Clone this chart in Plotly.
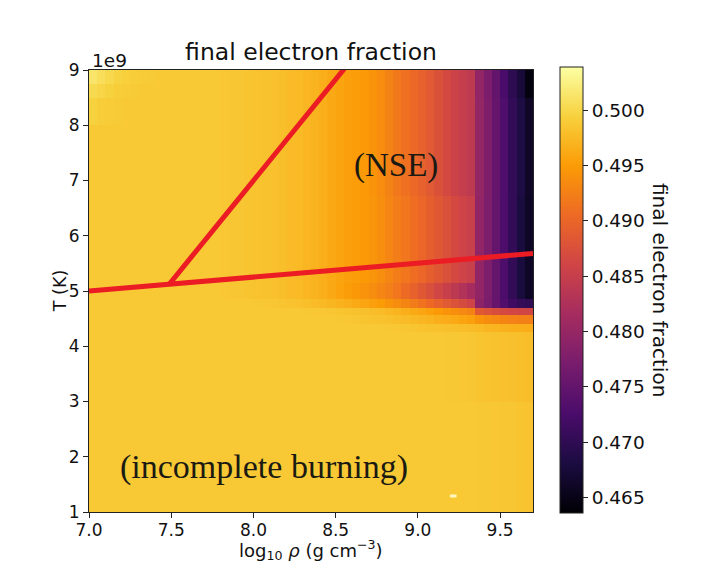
import plotly.graph_objects as go

# ---------------- data ----------------
# density grid: 54 columns of log10 rho, centres 7.025 ... 9.675 (step 0.05)
RHO_FIRST_CENTRE = 7.025
RHO_STEP = 0.05

# temperature row edges (units of 1e9 K), bottom -> top
T_EDGES = [1.0, 3.0, 4.26, 4.41, 4.56, 4.70, 4.85, 5.15, 6.72, 8.0, 8.5, 8.75, 9.0]

# column profiles of final Ye, split in segments:
# A: 7.025-7.775 (16), B: 7.825-8.475 (14), C: 8.525-9.325 (17), D: 9.375-9.675 (7)
yellow_A = [0.4988] * 16
yellow_B = [0.4988] * 14
nse_B = [0.4986, 0.4985, 0.4985, 0.4984, 0.4983, 0.4982, 0.4981,
         0.4979, 0.4977, 0.4975, 0.4972, 0.4969, 0.4965, 0.4961]
nse_C = [0.4957, 0.4954, 0.4951, 0.4948, 0.4943, 0.4936, 0.4928, 0.4919, 0.4911,
         0.4903, 0.4895, 0.4886, 0.4876, 0.4866, 0.4856, 0.4848, 0.4842]
nse_D = [0.4797, 0.4776, 0.4752, 0.4730, 0.4704, 0.4684, 0.4662]

top0_A = [0.5014, 0.5007, 0.5001, 0.4996, 0.4993, 0.4991, 0.4990, 0.4989,
          0.4988, 0.4988, 0.4988, 0.4988, 0.4988, 0.4988, 0.4988, 0.4988]
top0_D = [0.4795, 0.4773, 0.4750, 0.4726, 0.4698, 0.4675, 0.4645]
top1_A = [0.5003, 0.4999, 0.4995, 0.4992, 0.4990, 0.4989, 0.4988, 0.4988,
          0.4988, 0.4988, 0.4988, 0.4988, 0.4988, 0.4988, 0.4988, 0.4988]
top2_A = [0.4995, 0.4992, 0.4990, 0.4989, 0.4988, 0.4988, 0.4988, 0.4988,
          0.4988, 0.4988, 0.4988, 0.4988, 0.4988, 0.4988, 0.4988, 0.4988]

nse_mid_C = [0.4957, 0.4954, 0.4951, 0.4948, 0.4944, 0.4938, 0.4931, 0.4923, 0.4916,
             0.4908, 0.4901, 0.4893, 0.4884, 0.4875, 0.4866, 0.4858, 0.4852]
nse_mid_D = [0.4795, 0.4775, 0.4752, 0.4728, 0.4703, 0.4680, 0.4660]

band_C = [0.4955, 0.4951, 0.4947, 0.4942, 0.4937, 0.4931, 0.4924, 0.4916, 0.4906,
          0.4895, 0.4884, 0.4873, 0.4862, 0.4851, 0.4840, 0.4828, 0.4816]

t4_B = [0.4988, 0.4988, 0.4988, 0.4988, 0.4987, 0.4986, 0.4985,
        0.4984, 0.4983, 0.4981, 0.4979, 0.4977, 0.4974, 0.4971]
t4_C = [0.4968, 0.4965, 0.4962, 0.4958, 0.4954, 0.4949, 0.4943, 0.4937, 0.4930,
        0.4922, 0.4913, 0.4904, 0.4895, 0.4886, 0.4877, 0.4868, 0.4860]
t4_D = [0.4790, 0.4772, 0.4752, 0.4732, 0.4715, 0.4705, 0.4700]

t3_B = [0.4988, 0.4988, 0.4988, 0.4988, 0.4988, 0.4988, 0.4988,
        0.4988, 0.4988, 0.4988, 0.4987, 0.4986, 0.4986, 0.4985]
t3_C = [0.4984, 0.4983, 0.4982, 0.4980, 0.4978, 0.4976, 0.4973, 0.4970, 0.4966,
        0.4962, 0.4958, 0.4953, 0.4948, 0.4943, 0.4938, 0.4933, 0.4928]
t3_D = [0.4885, 0.4878, 0.4872, 0.4867, 0.4864, 0.4862, 0.4862]

t2_C = [0.4987, 0.4986, 0.4985, 0.4984, 0.4983, 0.4982, 0.4980, 0.4978, 0.4976,
        0.4974, 0.4972, 0.4969, 0.4966, 0.4963, 0.4960, 0.4957, 0.4954]
t2_D = [0.4942, 0.4937, 0.4933, 0.4930, 0.4927, 0.4925, 0.4924]

t1_C = [0.4988, 0.4988, 0.4988, 0.4988, 0.4988, 0.4988, 0.4987, 0.4986, 0.4985,
        0.4984, 0.4983, 0.4982, 0.4981, 0.4980, 0.4979, 0.4978, 0.4977]
t1_D = [0.4975, 0.4972, 0.4970, 0.4968, 0.4966, 0.4965, 0.4964]

low_a_C = [0.4988, 0.4988, 0.4988, 0.4988, 0.4988, 0.4988, 0.4988, 0.4988, 0.4988,
           0.4988, 0.4988, 0.4988, 0.4988, 0.4987, 0.4987, 0.4986, 0.4985]
low_a_D = [0.4984, 0.4983, 0.4982, 0.4981, 0.4980, 0.4979, 0.4978]

low_b_C = [0.4988] * 17
low_b_D = [0.4987, 0.4987, 0.4986, 0.4985, 0.4985, 0.4984, 0.4983]

# rows, bottom -> top (match T_EDGES)
YE_ROWS = [
    yellow_A + yellow_B + low_b_C + low_b_D,     # 1.0 - 3.0
    yellow_A + yellow_B + low_a_C + low_a_D,     # 3.0 - 4.26
    yellow_A + yellow_B + t1_C + t1_D,           # 4.26 - 4.41
    yellow_A + yellow_B + t2_C + t2_D,           # 4.41 - 4.56
    yellow_A + t3_B + t3_C + t3_D,               # 4.56 - 4.70
    yellow_A + t4_B + t4_C + t4_D,               # 4.70 - 4.85
    yellow_A + nse_B + band_C + nse_mid_D,       # 4.85 - 5.15
    yellow_A + nse_B + nse_mid_C + nse_mid_D,    # 5.15 - 6.72
    yellow_A + nse_B + nse_C + nse_D,            # 6.72 - 8.0
    top2_A + nse_B + nse_C + nse_D,              # 8.0 - 8.5
    top1_A + nse_B + nse_C + top0_D,             # 8.5 - 8.75
    top0_A + nse_B + nse_C + top0_D,             # 8.75 - 9.0
]

ZMIN, ZMAX = 0.4636, 0.5039
CB_TICKS = [0.465, 0.470, 0.475, 0.480, 0.485, 0.490, 0.495, 0.500]

# hand-drawn red boundary lines (log rho, T/1e9)
line_low_x = [7.0, 9.70]
line_low_y = [5.0, 5.68]
line_up_x = [7.49, 8.56]
line_up_y = [5.13, 9.05]

X_TICKS = [7.0, 7.5, 8.0, 8.5, 9.0, 9.5]
Y_TICKS = [1, 2, 3, 4, 5, 6, 7, 8, 9]

# ---------------- figure ----------------
fig = go.Figure()
fig.add_trace(go.Heatmap(
    z=YE_ROWS, x0=RHO_FIRST_CENTRE, dx=RHO_STEP, y=T_EDGES,
    colorscale="Inferno", zmin=ZMIN, zmax=ZMAX, zsmooth=False,
    colorbar=dict(
        x=1.0608, xanchor="left", xpad=0, ypad=0,
        y=0.5023, yanchor="middle", len=1.009, lenmode="fraction",
        thickness=23, outlinewidth=1, outlinecolor="#222",
        tickvals=CB_TICKS, ticktext=[f"{v:.3f}" for v in CB_TICKS],
        ticks="outside", ticklen=5, tickcolor="#222", tickwidth=1,
        tickfont=dict(family="DejaVu Sans", size=18.5, color="#111"),
    ),
    showscale=True,
))
fig.add_trace(go.Scatter(x=line_low_x, y=line_low_y, mode="lines",
                         line=dict(color="#ec1c24", width=5), showlegend=False))
fig.add_trace(go.Scatter(x=line_up_x, y=line_up_y, mode="lines",
                         line=dict(color="#ec1c24", width=5), showlegend=False))

axis_common = dict(showline=True, linecolor="#222", linewidth=1, mirror=True,
                   ticks="outside", ticklen=5, tickcolor="#222", showgrid=False,
                   zeroline=False, tickfont=dict(family="DejaVu Sans", size=17, color="#111"))
fig.update_xaxes(range=[7.0, 9.7], tickvals=X_TICKS, ticklabelstandoff=-2,
                 ticktext=[f"{v:.1f}" for v in X_TICKS], **axis_common)
fig.update_yaxes(range=[1.0, 9.0], tickvals=Y_TICKS,
                 ticktext=[str(v) for v in Y_TICKS], **axis_common)

fig.update_layout(
    width=715, height=576,
    margin=dict(l=81, r=190, t=62, b=72),
    paper_bgcolor="white", plot_bgcolor="white",
    showlegend=False,
    title=dict(text="final electron fraction", x=0.5, xref="paper", xanchor="center",
               y=1 - 44 / 576, yref="container", yanchor="middle",
               font=dict(family="DejaVu Sans", size=23.5, color="#111")),
    annotations=[
        dict(text="1e9", xref="paper", yref="paper", x=0.002, y=1.0, xanchor="left",
             yanchor="bottom", showarrow=False, yshift=-3,
             font=dict(family="DejaVu Sans", size=18.5, color="#111")),
        dict(text="T (K)", xref="paper", yref="paper", x=-0.065, y=0.5, textangle=-90,
             xanchor="center", yanchor="middle", showarrow=False,
             font=dict(family="DejaVu Sans", size=17.5, color="#111")),
        dict(text="log<sub>10</sub> <i>ρ</i> (g cm<sup>−3</sup>)", xref="paper",
             yref="paper", x=0.5, y=-0.086, xanchor="center", yanchor="middle",
             showarrow=False, font=dict(family="DejaVu Sans", size=18, color="#111")),
        dict(text="final electron fraction", xref="paper", yref="paper", x=1.286,
             y=0.5023, textangle=90, xanchor="center", yanchor="middle",
             showarrow=False, font=dict(family="DejaVu Sans", size=20, color="#111")),
        dict(text="(NSE)", x=8.865, y=7.28, xref="x", yref="y", showarrow=False,
             font=dict(family="Liberation Serif", size=33, color="#1b1a12")),
        dict(text="(incomplete burning)", x=8.066, y=1.81, xref="x", yref="y",
             showarrow=False,
             font=dict(family="Liberation Serif", size=34, color="#1b1a12")),
    ],
    shapes=[
        dict(type="line", xref="x", yref="y", x0=9.195, x1=9.235, y0=1.29, y1=1.29,
             line=dict(color="#fff6c0", width=3)),
    ],
)

fig.write_html("out.html")
